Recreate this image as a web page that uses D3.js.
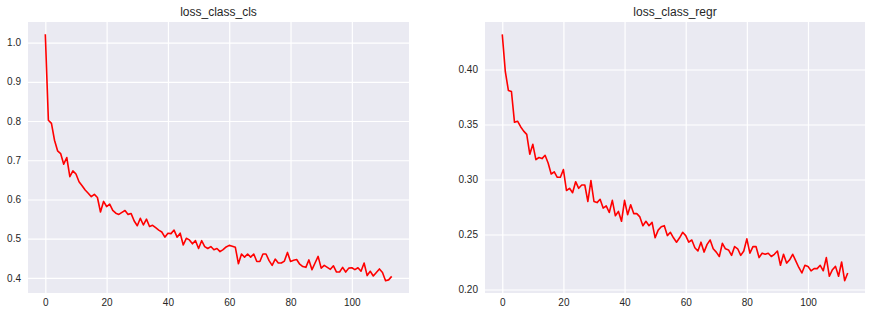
<!DOCTYPE html>
<html>
<head>
<meta charset="utf-8">
<script src="https://cdn.jsdelivr.net/npm/d3@7"></script>
<style>
  body { margin: 0; background: #fff; }
  svg { display: block; font-family: "Liberation Sans", Arial, sans-serif; }
</style>
</head>
<body>
<script>
// values, one per epoch
var lossClassCls = [1.021,0.802,0.794,0.751,0.724,0.717,0.690,0.707,0.658,0.673,
  0.665,0.645,0.635,0.624,0.616,0.607,0.613,0.605,0.568,0.595,
  0.582,0.588,0.572,0.565,0.562,0.567,0.572,0.562,0.564,0.545,
  0.533,0.552,0.535,0.550,0.531,0.534,0.528,0.522,0.517,0.504,
  0.514,0.513,0.522,0.504,0.514,0.484,0.501,0.497,0.487,0.495,
  0.475,0.495,0.480,0.475,0.480,0.472,0.475,0.467,0.472,0.479,
  0.483,0.481,0.478,0.436,0.461,0.453,0.461,0.453,0.461,0.442,
  0.442,0.461,0.461,0.444,0.432,0.448,0.438,0.438,0.443,0.465,
  0.442,0.445,0.447,0.435,0.429,0.427,0.446,0.421,0.438,0.455,
  0.425,0.432,0.427,0.422,0.431,0.415,0.415,0.427,0.415,0.425,
  0.426,0.421,0.426,0.417,0.438,0.406,0.417,0.405,0.414,0.423,
  0.414,0.393,0.395,0.404];

var lossClassRegr = [0.432,0.398,0.381,0.380,0.352,0.353,0.348,0.344,0.341,0.323,
  0.332,0.318,0.320,0.319,0.322,0.315,0.305,0.307,0.302,0.302,
  0.309,0.290,0.292,0.288,0.298,0.292,0.295,0.295,0.280,0.299,
  0.280,0.279,0.282,0.274,0.276,0.270,0.281,0.267,0.271,0.262,
  0.281,0.268,0.277,0.269,0.269,0.266,0.258,0.262,0.258,0.261,
  0.247,0.254,0.257,0.258,0.249,0.252,0.247,0.243,0.247,0.252,
  0.249,0.243,0.245,0.238,0.235,0.243,0.234,0.241,0.245,0.237,
  0.234,0.230,0.242,0.237,0.236,0.231,0.239,0.237,0.231,0.235,
  0.246,0.233,0.239,0.239,0.229,0.233,0.232,0.233,0.230,0.232,
  0.235,0.222,0.232,0.224,0.227,0.232,0.226,0.220,0.215,0.222,
  0.221,0.217,0.219,0.219,0.222,0.217,0.229,0.212,0.218,0.221,
  0.212,0.225,0.208,0.215];

var titles = ["loss_class_cls", "loss_class_regr"];
var xTicks = [0, 20, 40, 60, 80, 100];
var yTicksCls = [0.4, 0.5, 0.6, 0.7, 0.8, 0.9, 1.0];
var yTicksRegr = [0.20, 0.25, 0.30, 0.35, 0.40];

var w = 872, h = 318;
var svg = d3.select("body").append("svg").attr("width", w).attr("height", h);

function drawPanel(data, title, yTicks, fmt, left, right) {
  var top = 22, bottom = 293;
  var n = data.length - 1;
  var xPad = n * 0.05;
  var lo = d3.min(data), hi = d3.max(data);
  var yPad = (hi - lo) * 0.05;

  var x = d3.scaleLinear().domain([-xPad, n + xPad]).range([left, right]);
  var y = d3.scaleLinear().domain([lo - yPad, hi + yPad]).range([bottom, top]);

  var g = svg.append("g");
  g.append("rect")
    .attr("x", left).attr("y", top)
    .attr("width", right - left).attr("height", bottom - top)
    .attr("fill", "#EAEAF2");

  var xAxis = g.append("g")
    .attr("transform", "translate(0," + bottom + ")")
    .call(d3.axisBottom(x).tickValues(xTicks).tickSize(-(bottom - top)).tickPadding(6).tickFormat(d3.format("d")));
  var yAxis = g.append("g")
    .attr("transform", "translate(" + left + ",0)")
    .call(d3.axisLeft(y).tickValues(yTicks).tickSize(-(right - left)).tickPadding(7).tickFormat(fmt));

  [xAxis, yAxis].forEach(function(a) {
    a.select(".domain").remove();
    a.selectAll(".tick line").attr("stroke", "#fff").attr("stroke-width", 1.2);
    a.selectAll(".tick text").attr("fill", "#262626").style("font-size", "10px")
      .style("font-family", "'Liberation Sans', Arial, sans-serif");
  });

  var line = d3.line().x(function(d, i) { return x(i); }).y(function(d) { return y(d); });
  g.append("path")
    .datum(data)
    .attr("d", line)
    .attr("fill", "none")
    .attr("stroke", "red")
    .attr("stroke-width", 1.6)
    .attr("stroke-linejoin", "round");

  g.append("text")
    .attr("x", (left + right) / 2).attr("y", 16)
    .attr("text-anchor", "middle")
    .attr("fill", "#262626")
    .style("font-size", "12px")
    .text(title);
}

drawPanel(lossClassCls, titles[0], yTicksCls, d3.format(".1f"), 28, 409);
drawPanel(lossClassRegr, titles[1], yTicksRegr, d3.format(".2f"), 485, 865);
</script>
</body>
</html>
